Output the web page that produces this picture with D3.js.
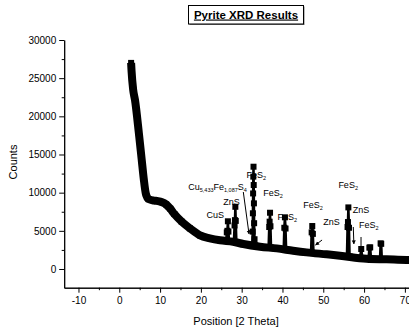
<!DOCTYPE html>
<meta charset="utf-8">
<script src="https://cdn.jsdelivr.net/npm/d3@7"></script>
<style>
    body {
        margin: 0;
        background: #fff;
    }

    svg {
        display: block;
        font-family: Arial, "Liberation Sans", sans-serif;
    }

    .axis path, .axis line {
        stroke: #000;
        stroke-width: 1;
    }

    .axis text {
        font-family: Arial, "Liberation Sans", sans-serif;
        font-size: 10px;
        fill: #000;
    }

    .peak-label {
        font-size: 9px;
        fill: #000;
    }
</style>
<body>
<script>
    // background of the scan (2 theta / counts)
    const bgTheta = [2.9, 3.0, 3.4, 3.85, 4.8, 5.5, 6.0, 6.5, 7.2, 8.5, 9.5, 10.5, 11.5, 12.5, 13.5, 15.3, 17.3, 19.8,
        22.2, 24.7, 27.9, 30.4, 34.5, 38.6, 42.6, 45.9, 50.8, 54.1, 60.6, 65.5, 70.4, 71.5];
    const bgCounts = [27000, 26000, 23500, 22150, 17800, 14300, 11800, 9900, 9150, 8950, 8900, 8750, 8450, 7900, 7200,
        6200, 5330, 4400, 4020, 3760, 3570, 3270, 2920, 2700, 2400, 2180, 1920, 1740, 1350, 1270, 1180, 1170];

    // points on the diffraction peaks
    const peakTheta = [
        26.2, 26.35, 26.5, 26.62, 26.75, 26.9,
        28.1, 28.25, 28.35, 28.45, 28.55, 28.7,
        32.6, 32.7, 32.75, 32.8, 32.85, 32.9, 32.95, 33.0, 33.05, 33.15, 33.3,
        36.6, 36.75, 36.85, 36.95, 37.05, 37.2,
        40.3, 40.45, 40.6, 40.75, 40.9,
        47.0, 47.15, 47.3, 47.45, 47.6,
        55.8, 55.95, 56.05, 56.15, 56.3, 56.45,
        59.0, 59.3, 59.6,
        61.1, 61.3, 61.5, 61.7,
        63.9, 64.05, 64.2, 64.35];
    const peakCounts = [
        3700, 4800, 5000, 6250, 4900, 3650,
        3600, 5700, 6400, 8150, 6300, 3550,
        3150, 4900, 7300, 9900, 12100, 13400, 11000, 8600, 6000, 3900, 3100,
        2850, 5500, 6200, 7370, 5600, 2800,
        2580, 5400, 6770, 5300, 2520,
        2100, 4800, 5630, 4600, 2060,
        1680, 5500, 6150, 8070, 5400, 1640,
        1450, 2620, 1400,
        1340, 2800, 2840, 1320,
        1290, 3360, 3300, 1270];

    // axis ticks
    const yMajor = [0, 5000, 10000, 15000, 20000, 25000, 30000];
    const yMinor = [2500, 7500, 12500, 17500, 22500, 27500];
    const xMajor = [-10, 0, 10, 20, 30, 40, 50, 60, 70];
    const xMinor = [-5, 5, 15, 25, 35, 45, 55, 65];

    // phase labels (text, anchor in data units)
    const labelNames = ["Cu_{5,433}Fe_{1,087}S_{4}", "ZnS", "CuS", "FeS_{2}", "FeS_{2}", "FeS_{2}", "FeS_{2}", "ZnS",
        "FeS_{2}", "ZnS", "FeS_{2}"];
    const labelTheta = [16.9, 25.5, 21.4, 31.2, 35.3, 38.8, 45.1, 50.0, 53.7, 57.2, 58.75];
    const labelCounts = [10350, 8380, 6680, 11920, 9500, 6420, 7990, 5760, 10610, 7340, 5370];

    // arrows
    const arrowFromTheta = [30.4, 57.35, 59.25, 49.7];
    const arrowFromCounts = [10090, 5500, 4190, 3800];
    const arrowToTheta = [31.8, 57.5, 59.25, 48.1];
    const arrowToCounts = [4590, 3280, 2490, 3140];

    const width = 409, height = 331;

    const x = d3.scaleLinear().domain([-13.5, 71.5]).range([64.2, 411]);
    const y = d3.scaleLinear().domain([-2450, 30000]).range([287.7, 40]);

    const svg = d3.select("body").append("svg")
        .attr("width", width)
        .attr("height", height);

    svg.append("rect").attr("width", width).attr("height", height).attr("fill", "#fff");

    // title box
    svg.append("rect")
        .attr("x", 189.5).attr("y", 6.5).attr("width", 115).attr("height", 18.5)
        .attr("fill", "#777");
    svg.append("rect")
        .attr("x", 188.5).attr("y", 5.5).attr("width", 115).attr("height", 18.5)
        .attr("fill", "#fff").attr("stroke", "#000");
    svg.append("text")
        .attr("x", 246).attr("y", 18.5)
        .attr("text-anchor", "middle")
        .style("font-size", "11.5px")
        .style("font-weight", "bold")
        .style("text-decoration", "underline")
        .text("Pyrite XRD Results");

    // axes
    const plain = d => String(d);

    svg.append("g").attr("class", "axis")
        .attr("transform", "translate(" + x.range()[0] + ",0)")
        .call(d3.axisLeft(y).tickValues(yMinor).tickSize(2.5).tickSizeOuter(0).tickFormat(""));
    svg.append("g").attr("class", "axis")
        .attr("transform", "translate(" + x.range()[0] + ",0)")
        .call(d3.axisLeft(y).tickValues(yMajor).tickSize(5).tickSizeOuter(0).tickPadding(3).tickFormat(plain));

    svg.append("g").attr("class", "axis")
        .attr("transform", "translate(0," + y.range()[0] + ")")
        .call(d3.axisBottom(x).tickValues(xMinor).tickSize(2.5).tickSizeOuter(0).tickFormat(""));
    svg.append("g").attr("class", "axis")
        .attr("transform", "translate(0," + y.range()[0] + ")")
        .call(d3.axisBottom(x).tickValues(xMajor).tickSize(5).tickSizeOuter(0).tickPadding(4).tickFormat(plain));

    svg.append("text")
        .attr("transform", "translate(17,162) rotate(-90)")
        .attr("text-anchor", "middle")
        .style("font-size", "11px")
        .text("Counts");

    svg.append("text")
        .attr("x", 236).attr("y", 325)
        .attr("text-anchor", "middle")
        .style("font-size", "11px")
        .text("Position [2 Theta]");

    // phase labels, drawn under the scan
    labelNames.forEach(function (name, i) {
        const t = svg.append("text")
            .attr("class", "peak-label")
            .attr("x", x(labelTheta[i]))
            .attr("y", y(labelCounts[i]));
        const parts = name.split(/(_\{[^}]*\})/).filter(p => p.length);
        let shifted = false;
        parts.forEach(function (p) {
            if (p.startsWith("_{")) {
                t.append("tspan")
                    .attr("dy", 2)
                    .style("font-size", "5.5px")
                    .text(p.slice(2, -1));
                shifted = true;
            } else {
                t.append("tspan")
                    .attr("dy", shifted ? -2 : 0)
                    .text(p);
                shifted = false;
            }
        });
    });

    // arrows
    svg.append("defs").append("marker")
        .attr("id", "head")
        .attr("viewBox", "0 0 10 10")
        .attr("refX", 9).attr("refY", 5)
        .attr("markerWidth", 4).attr("markerHeight", 5)
        .attr("orient", "auto")
        .append("path")
        .attr("d", "M0,0L10,5L0,10Z")
        .attr("fill", "#000");

    arrowFromTheta.forEach(function (d, i) {
        svg.append("line")
            .attr("x1", x(d)).attr("y1", y(arrowFromCounts[i]))
            .attr("x2", x(arrowToTheta[i])).attr("y2", y(arrowToCounts[i]))
            .attr("stroke", "#000")
            .attr("stroke-width", 1)
            .attr("marker-end", "url(#head)");
    });

    // background band of the scan
    const bg = bgTheta.map((d, i) => [d, bgCounts[i]]);
    svg.append("path")
        .datum(bg)
        .attr("fill", "none")
        .attr("stroke", "#000")
        .attr("stroke-width", 8)
        .attr("stroke-linejoin", "round")
        .attr("d", d3.line().x(d => x(d[0])).y(d => y(d[1])).curve(d3.curveMonotoneX));

    // full scan: background + peaks
    const scan = bg.concat(peakTheta.map((d, i) => [d, peakCounts[i]]))
        .sort((a, b) => a[0] - b[0]);

    svg.append("path")
        .datum(scan)
        .attr("fill", "none")
        .attr("stroke", "#000")
        .attr("stroke-width", 2.5)
        .attr("d", d3.line().x(d => x(d[0])).y(d => y(d[1])));

    svg.append("g")
        .selectAll("rect")
        .data(scan)
        .enter().append("rect")
        .attr("x", d => x(d[0]) - 3)
        .attr("y", d => y(d[1]) - 3)
        .attr("width", 6)
        .attr("height", 6)
        .attr("fill", "#000");
</script>
</body>
</html>
